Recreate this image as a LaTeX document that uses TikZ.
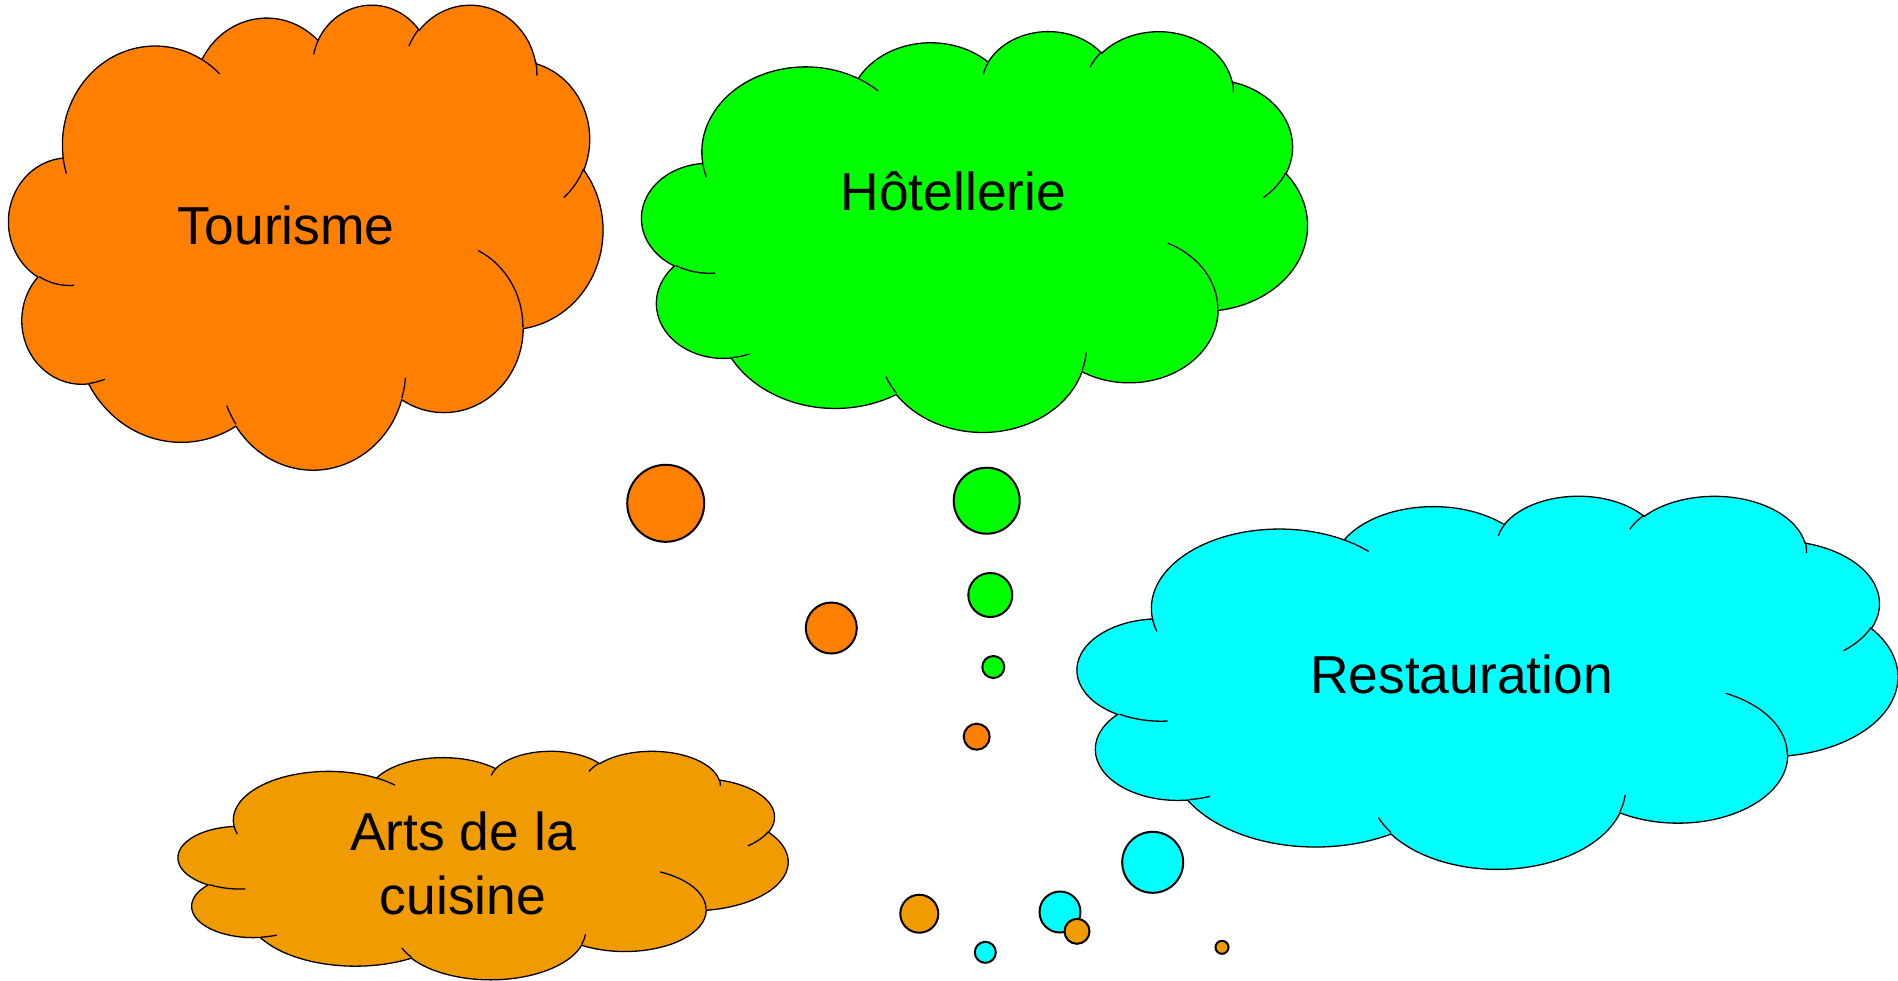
\documentclass[tikz,border=0pt]{standalone}
\usepackage{fontspec}
\setmainfont{Liberation Sans}
\usepackage{tikz}
\usepackage{xcolor}
\definecolor{tourorange}{RGB}{255,128,0}
\definecolor{hotelgreen}{RGB}{0,255,0}
\definecolor{restocyan}{RGB}{0,255,255}
\definecolor{artsgold}{RGB}{240,155,0}
\tikzstyle{cloudline} = [draw=black, line width=0.13mm]
\tikzstyle{bubble} = [circle, draw=black, line width=0.2mm, inner sep=0pt]
\tikzstyle{cloudtext} = [font=\fontsize{15.2}{18.2}\selectfont, inner sep=0pt, text=black]
\tikzset{declare function={vang(\xa,\xb,\xt)=atan2(\xa*sin(\xt),\xb*cos(\xt));}}
\newcommand{\puff}[4]{arc[x radius=#1, y radius=#2, start angle={vang(#1,#2,#3)}, delta angle={mod(vang(#1,#2,#3+#4)-vang(#1,#2,#3)+720,360)}]}
\newcommand{\drawcloud}[5]{%
  \pgfmathsetmacro{\cw}{#3/432}%
  \pgfmathsetmacro{\ch}{-#4/432}%
  \begin{scope}[shift={(#1,#2)}, x=\cw mm, y=\ch mm]
    \path[cloudline, fill=#5] (3.900,14.370)
      \puff{6.753}{9.190}{-190.4875}{123.7805}
      \puff{5.333}{7.267}{-144.1024}{89.9452}
      \puff{4.365}{5.945}{-145.8079}{99.7230}
      \puff{4.857}{6.595}{-130.9861}{117.2417}
      \puff{5.333}{7.273}{-78.7089}{109.0269}
      \puff{6.775}{9.220}{-46.2673}{130.2690}
      \puff{5.785}{7.867}{0.6250}{114.0333}
      \puff{6.752}{9.215}{22.4516}{115.1726}
      \puff{7.720}{10.543}{66.2426}{76.6834}
      \puff{4.360}{5.918}{-274.9421}{146.7356}
      \puff{4.345}{5.945}{-246.8285}{153.4} -- cycle;
    \path[cloudline]
      (4.693,26.177) \puff{4.345}{5.945}{86.7420}{26.4295}
      (6.928,34.899) \puff{4.360}{5.918}{73.6105}{11.4475}
      (16.478,39.090) \puff{6.752}{9.215}{137.6242}{14.0811}
      (28.827,34.751) \puff{6.752}{9.215}{6.4533}{15.9984}
      (34.129,22.954) \puff{5.785}{7.867}{-70.2924}{70.9174}
      (41.798,15.354) \puff{5.333}{7.273}{30.3180}{27.7515}
      (38.324,5.426) \puff{4.857}{6.595}{-13.7443}{14.8589}
      (29.078,3.952) \puff{4.857}{6.595}{-149.1815}{18.1954}
      (22.141,4.720) \puff{4.365}{5.945}{-163.4943}{17.6864}
      (14.000,5.192) \puff{6.753}{9.190}{-66.7070}{12.3194}
      (4.127,15.789) \puff{6.753}{9.190}{157.6544}{11.8582};
  \end{scope}}

\begin{document}
\begin{tikzpicture}[x=0.1mm, y=-0.1mm]
\useasboundingbox[fill=white] (0,0) rectangle (1898,980);

\drawcloud{9.7}{3.6}{593.1}{464.9}{tourorange}
\drawcloud{642.8}{30.3}{664.5}{400.7}{hotelgreen}
\drawcloud{1078.6}{495}{819}{373}{restocyan}
\drawcloud{179.2}{750.5}{608.8}{228.5}{artsgold}

\node (tourisme) [cloudtext, anchor=base] at (286.3,244.3) {Tourisme};
\node (hotellerie) [cloudtext, anchor=base] at (953.4,210) {Hôtellerie};
\node (restauration) [cloudtext, anchor=base] at (1461.5,693.3) {Restauration};
\node (arts) [cloudtext, align=center] at (463,863) {Arts de la\\cuisine};

\node (tour1) [bubble, fill=tourorange, minimum size=7.7mm] at (665.7,503.3) {};
\node (tour2) [bubble, fill=tourorange, minimum size=5.1mm] at (831.3,628) {};
\node (tour3) [bubble, fill=tourorange, minimum size=2.6mm] at (976.7,736.7) {};
\node (hotel1) [bubble, fill=hotelgreen, minimum size=6.6mm] at (986.7,500.7) {};
\node (hotel2) [bubble, fill=hotelgreen, minimum size=4.4mm] at (990.3,595) {};
\node (hotel3) [bubble, fill=hotelgreen, minimum size=2.2mm] at (993.3,667) {};
\node (resto1) [bubble, fill=restocyan, minimum size=6.1mm] at (1152.7,862.3) {};
\node (resto2) [bubble, fill=restocyan, minimum size=4.1mm] at (1060,912) {};
\node (resto3) [bubble, fill=restocyan, minimum size=2.1mm] at (985.3,952.3) {};
\node (arts1) [bubble, fill=artsgold, minimum size=3.8mm] at (919.3,913.7) {};
\node (arts2) [bubble, fill=artsgold, minimum size=2.5mm] at (1077,931.3) {};
\node (arts3) [bubble, fill=artsgold, minimum size=1.3mm] at (1222,947.3) {};
\end{tikzpicture}
\end{document}
